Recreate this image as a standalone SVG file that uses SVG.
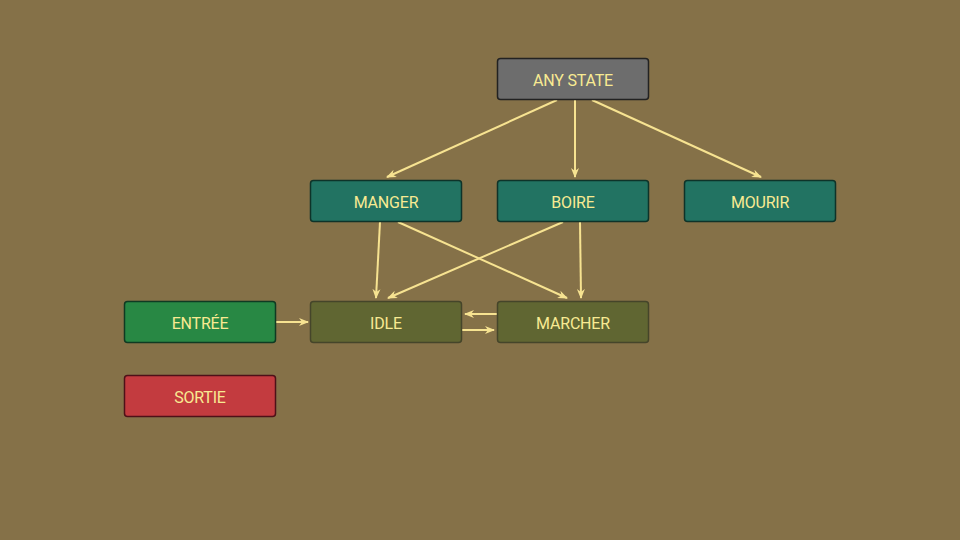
<svg xmlns="http://www.w3.org/2000/svg" width="960" height="540" viewBox="0 0 960 540">
<defs>
<marker id="ah" viewBox="0 0 10 10" refX="9" refY="5" markerWidth="10" markerHeight="10" markerUnits="userSpaceOnUse" orient="auto">
<path d="M0,1 L10,5 L0,9 L3,5 Z" fill="#f7e391"/>
</marker>
<style>
.n rect{stroke-width:1.5}
.n text{font-family:"Roboto","Liberation Sans",sans-serif;font-size:16px;letter-spacing:-0.2px;fill:#f8ea92;text-anchor:middle;dominant-baseline:central}
.any rect{fill:#6d6d6d;stroke:#222}
.teal rect{fill:#227362;stroke:#0e3329}
.ent rect{fill:#288844;stroke:#0f3a22}
.olive rect{fill:#606632;stroke:#45452a}
.sor rect{fill:#c33b3f;stroke:#4e1018}
#edges line{stroke:#f7e391;stroke-width:2;marker-end:url(#ah)}
</style>
</defs>
<rect width="960" height="540" fill="#857148"/>
<g id="edges">
<line x1="557" y1="100" x2="387" y2="177"/>
<line x1="575" y1="100" x2="575" y2="177"/>
<line x1="592" y1="100" x2="761" y2="177"/>
<line x1="380" y1="222" x2="376" y2="298"/>
<line x1="398" y1="222" x2="567" y2="298"/>
<line x1="563" y1="222" x2="388" y2="298"/>
<line x1="580" y1="222" x2="581" y2="298"/>
<line x1="276" y1="322" x2="308" y2="322"/>
<line x1="497" y1="314" x2="465" y2="314"/>
<line x1="462" y1="330" x2="494" y2="330"/>
</g>
<g id="any" class="n any"><rect x="497.5" y="58.5" width="151" height="41" rx="3"/><text x="573" y="80.5">ANY STATE</text></g>
<g id="manger" class="n teal"><rect x="310.5" y="180.5" width="151" height="41" rx="3"/><text x="386" y="202.5">MANGER</text></g>
<g id="boire" class="n teal"><rect x="497.5" y="180.5" width="151" height="41" rx="3"/><text x="573" y="202.5">BOIRE</text></g>
<g id="mourir" class="n teal"><rect x="684.5" y="180.5" width="151" height="41" rx="3"/><text x="760" y="202.5">MOURIR</text></g>
<g id="entree" class="n ent"><rect x="124.5" y="301.5" width="151" height="41" rx="3"/><text x="200" y="323.5">ENTRÉE</text></g>
<g id="idle" class="n olive"><rect x="310.5" y="301.5" width="151" height="41" rx="3"/><text x="386" y="323.5">IDLE</text></g>
<g id="marcher" class="n olive"><rect x="497.5" y="301.5" width="151" height="41" rx="3"/><text x="573" y="323.5">MARCHER</text></g>
<g id="sortie" class="n sor"><rect x="124.5" y="375.5" width="151" height="41" rx="3"/><text x="200" y="397.5">SORTIE</text></g>
</svg>
